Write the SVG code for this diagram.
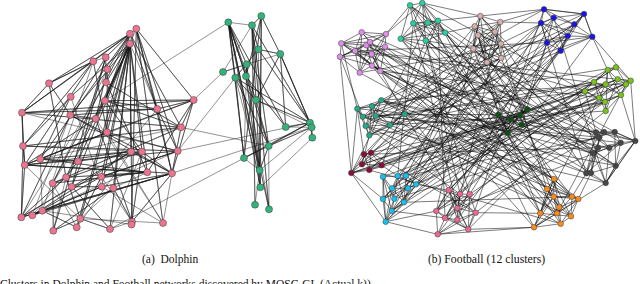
<svg xmlns="http://www.w3.org/2000/svg" width="640" height="284" viewBox="0 0 640 284">
<style>
.e{fill:none;stroke:#1a1a1a;stroke-width:.6;stroke-opacity:.8;stroke-linejoin:round}
#football-edges .e{stroke:#111;stroke-width:.6;stroke-opacity:.92}
circle{stroke:#3a3a3a;stroke-width:.5}
.pk{fill:#ea7590}.gr{fill:#34b27b}
.fv{fill:#dd8fe9}.ft{fill:#27d0a0}.fr{fill:#d6b1ab}.fb{fill:#1c14e6}.fy{fill:#78c41a}.fd{fill:#0d4f14}
.fs{fill:#22a986}.fk{fill:#454545}.fm{fill:#8a0d3b}.fc{fill:#17c0ef}.fn{fill:#ee6890}.fo{fill:#fb8c1c}
text{font-family:"Liberation Serif","Times New Roman",serif;fill:#111}
</style>
<rect width="640" height="284" fill="#fff"/>
<g id="connectors">
<g id="dolphin-edges">
<polyline class="e" points="130,43.7 106,82.3 130,43.7 105,100.7 130,43.7 95.7,118.7 130,43.7 107,132.3 130,43.7 131,151.7 130,43.7 142,151.7 130,43.7 78,161.3 130,43.7 101.3,176.7 130,43.7 101.7,186.7 130,43.7 113.3,188 130,43.7 132,221.7 130,43.7 110,229 130,43.7 70.3,115 130,43.7 71.7,186.7 130,43.7 80.3,218.7 130,43.7 70.7,96.7 130,43.7 147.3,172.3 130,43.7 66,177.3 130,43.7 157.3,109"/>
<polyline class="e" points="130,33.7 105.7,57.3 130,33.7 93.3,61.3 130,33.7 49,83.3 130,33.7 107.3,69.3 130,33.7 157.3,109 130,33.7 181,127.3 130,33.7 40.3,159 130,33.7 52.7,183.3 130,33.7 76.7,227.3 130,33.7 22,112.7 130,33.7 105,100.7 130,33.7 136.3,28.7 130,33.7 130,43.7"/>
<polyline class="e" points="136.3,28.7 193.7,100 136.3,28.7 157.3,109 136.3,28.7 131.5,224.5 136.3,28.7 177.7,151 136.3,28.7 172,173.3 136.3,28.7 163,223 136.3,28.7 130,43.7"/>
<polyline class="e" points="93.3,61.3 49,83.3 93.3,61.3 22,112.7 93.3,61.3 107,132.3 93.3,61.3 24.7,165 93.3,61.3 23,146 93.3,61.3 42.3,210.7"/>
<polyline class="e" points="105.7,57.3 106,82.3 105.7,57.3 71.7,186.7 105.7,57.3 53.3,230.7 105.7,57.3 70.3,115 105.7,57.3 93.3,61.3"/>
<polyline class="e" points="49,83.3 22,112.7 49,83.3 70.3,115 49,83.3 66,177.3 49,83.3 93.3,61.3"/>
<polyline class="e" points="22,112.7 193.7,100 22,112.7 157.3,109 22,112.7 181,127.3 22,112.7 23,146 22,112.7 24.7,165 22,112.7 177.7,151"/>
<polyline class="e" points="70.3,115 95.7,118.7 70.3,115 142,151.7 70.3,115 172,173.3 70.3,115 21.3,217.3 70.3,115 32.3,215.3"/>
<polyline class="e" points="70.7,96.7 23,146 70.7,96.7 40.3,159 70.7,96.7 101.7,186.7"/>
<polyline class="e" points="105,100.7 157.3,109 105,100.7 193.7,100 105,100.7 142,151.7 105,100.7 52.7,183.3"/>
<polyline class="e" points="106,82.3 181,127.3 106,82.3 147.3,172.3 106,82.3 21.3,217.3"/>
<polyline class="e" points="95.7,118.7 24.7,165 95.7,118.7 132,221.7 95.7,118.7 163,223"/>
<polyline class="e" points="181,127.3 193.7,100 181,127.3 105,100.7 181,127.3 66,177.3 181,127.3 23,146 181,127.3 172,173.3 181,127.3 40.3,159"/>
<polyline class="e" points="107,132.3 40.3,159 107,132.3 24.7,165 107,132.3 177.7,151 107,132.3 163,223"/>
<polyline class="e" points="23,146 24.7,165 23,146 21.3,217.3 23,146 177.7,151 23,146 142,151.7"/>
<polyline class="e" points="24.7,165 147.3,172.3 24.7,165 172,173.3 24.7,165 40.3,159 24.7,165 131,151.7 24.7,165 21.3,217.3 24.7,165 80.3,218.7"/>
<polyline class="e" points="40.3,159 78,161.3 40.3,159 147.3,172.3 40.3,159 131,151.7 40.3,159 42.3,210.7"/>
<polyline class="e" points="78,161.3 142,151.7 78,161.3 66,177.3 78,161.3 32.3,215.3"/>
<polyline class="e" points="193.7,100 147.3,172.3 193.7,100 172,173.3 193.7,100 157.3,109 193.7,100 107,132.3 193.7,100 40.3,159"/>
<polyline class="e" points="157.3,109 70.3,115 157.3,109 177.7,151 157.3,109 172,173.3 157.3,109 101.3,176.7"/>
<polyline class="e" points="131,151.7 172,173.3 131,151.7 21.3,217.3 131,151.7 32.3,215.3 131,151.7 76.7,227.3"/>
<polyline class="e" points="142,151.7 172,173.3 142,151.7 52.7,183.3 142,151.7 131.5,224.5 142,151.7 110,229"/>
<polyline class="e" points="177.7,151 24.7,165 177.7,151 101.3,176.7 177.7,151 71.7,186.7 177.7,151 32.3,215.3"/>
<polyline class="e" points="147.3,172.3 66,177.3 147.3,172.3 101.3,176.7 147.3,172.3 52.7,183.3 147.3,172.3 113.3,188"/>
<polyline class="e" points="172,173.3 42.3,210.7 172,173.3 32.3,215.3 172,173.3 21.3,217.3 172,173.3 101.7,186.7 172,173.3 132,221.7 172,173.3 163,223"/>
<polyline class="e" points="66,177.3 52.7,183.3 66,177.3 21.3,217.3 66,177.3 80.3,218.7 66,177.3 53.3,230.7"/>
<polyline class="e" points="101.3,176.7 32.3,215.3 101.3,176.7 80.3,218.7 101.3,176.7 132,221.7"/>
<polyline class="e" points="52.7,183.3 53.3,230.7 52.7,183.3 76.7,227.3"/>
<polyline class="e" points="71.7,186.7 101.7,186.7 71.7,186.7 110,229 71.7,186.7 21.3,217.3"/>
<polyline class="e" points="101.7,186.7 42.3,210.7 101.7,186.7 32.3,215.3 101.7,186.7 163,223"/>
<polyline class="e" points="113.3,188 132,221.7 113.3,188 53.3,230.7 113.3,188 80.3,218.7"/>
<polyline class="e" points="42.3,210.7 21.3,217.3 42.3,210.7 32.3,215.3 42.3,210.7 76.7,227.3 42.3,210.7 131.5,224.5"/>
<polyline class="e" points="80.3,218.7 53.3,230.7 80.3,218.7 76.7,227.3 80.3,218.7 110,229 80.3,218.7 163,223"/>
<polyline class="e" points="132,221.7 131.5,224.5 132,221.7 110,229"/>
<polyline class="e" points="107.3,69.3 95.7,118.7 107.3,69.3 107,132.3 107.3,69.3 52.7,183.3"/>
<polyline class="e" points="228.3,22.3 246.7,64.3 228.3,22.3 235.3,77.7 228.3,22.3 244,158 228.3,22.3 259.7,170.3 228.3,22.3 260.3,187.3 228.3,22.3 246,76.3 228.3,22.3 256,100 228.3,22.3 285.7,127 228.3,22.3 269,209.3 228.3,22.3 268.7,146 228.3,22.3 252,25.3"/>
<polyline class="e" points="261.3,16 252,25.3 261.3,16 280.3,54 261.3,16 246,76.3 261.3,16 244,158 261.3,16 259.7,170.3 261.3,16 260.3,187.3"/>
<polyline class="e" points="252,25.3 258.3,49.3 252,25.3 256,100 252,25.3 268.7,146 252,25.3 255,204.7 252,25.3 269,209.3 252,25.3 310,122.7 252,25.3 223,72"/>
<polyline class="e" points="258.3,49.3 280.3,54 258.3,49.3 235.3,77.7 258.3,49.3 310,122.7 258.3,49.3 260.3,187.3"/>
<polyline class="e" points="280.3,54 285.7,127 280.3,54 310,122.7 280.3,54 311.7,127.3 280.3,54 256,100 280.3,54 246.7,64.3"/>
<polyline class="e" points="246.7,64.3 223,72 246.7,64.3 246,76.3 246.7,64.3 259.7,170.3 246.7,64.3 244,158"/>
<polyline class="e" points="235.3,77.7 256,100 235.3,77.7 310,122.7 235.3,77.7 268.7,146 235.3,77.7 244,158 235.3,77.7 259.7,170.3"/>
<polyline class="e" points="246,76.3 285.7,127 246,76.3 260.3,187.3 246,76.3 269,209.3"/>
<polyline class="e" points="256,100 268.7,146 256,100 310,122.7 256,100 259.7,170.3 256,100 311.7,127.3"/>
<polyline class="e" points="285.7,127 310,122.7 285.7,127 311.7,127.3"/>
<polyline class="e" points="310,122.7 312.3,137.7 310,122.7 268.7,146 310,122.7 244,158 310,122.7 311.7,127.3"/>
<polyline class="e" points="311.7,127.3 268.7,146 311.7,127.3 312.3,137.7 311.7,127.3 259.7,170.3"/>
<polyline class="e" points="312.3,137.7 260.3,187.3"/>
<polyline class="e" points="268.7,146 244,158 268.7,146 259.7,170.3 268.7,146 269,209.3"/>
<polyline class="e" points="244,158 259.7,170.3 260.3,187.3 259.7,170.3 255,204.7"/>
<path class="e" d="M105 100.7L228.3 22.3M177.7 151L235.3 77.7M181 127.3L268.7 146M177.7 151L310 122.7M172 173.3L311.7 127.3M110 229L244 158M193.7 100L223 72"/>
</g>
<g id="football-edges">
<polyline class="e" points="361.7,32.3 386,34 385,46.7 380.3,71 372,65.7 359.7,72.7 340,56.7 341.3,43.3 361.7,32.3 370,42 371.7,54 359.7,72.7 355,51 341.3,43.3 366.3,45.3 385,46.7 371.7,54 380.3,71"/>
<polyline class="e" points="386,34 370,42 355,51 340,56.7 366.3,45.3 372,65.7 386,34 371.7,54 341.3,43.3 370,42 359.7,72.7 361.7,32.3 355,51 380.3,71 366.3,45.3 386,34"/>
<polyline class="e" points="385,46.7 372,65.7 355,51 371.7,54 340,56.7 370,42 380.3,71 341.3,43.3 372,65.7"/>
<polyline class="e" points="410,5.3 422.3,3 438,20.7 445.3,32.7 425.7,40.7 400.7,38.7 410,5.3 413.3,23.3 427.7,22.7 438,20.7 425.7,40.7 413.3,23.3 400.7,38.7 427.7,22.7 445.3,32.7 422.3,3 413.3,23.3 445.3,32.7"/>
<polyline class="e" points="410,5.3 427.7,22.7 422.3,3 425.7,40.7 410,5.3 445.3,32.7 400.7,38.7 438,20.7 413.3,23.3"/>
<polyline class="e" points="480.3,16 500.3,22 495,31.7 501,43.7 501.3,58 487,62.3 473.3,48.7 478,35.3 474.7,26.3 480.3,16 495,31.7 478,35.3 501,43.7 487,62.3 474.7,26.3 500.3,22 501,43.7 473.3,48.7 495,31.7 501.3,58 478,35.3 500.3,22"/>
<polyline class="e" points="480.3,16 473.3,48.7 501.3,58 474.7,26.3 495,31.7 487,62.3 480.3,16 501,43.7 474.7,26.3 473.3,48.7 500.3,22"/>
<polyline class="e" points="544,9.3 584,14 592.3,36.7 560.7,50.7 547,42.7 541,23 544,9.3 553.7,17.7 574.3,24.3 592.3,36.7 567.7,36 547,42.7 553.7,17.7 541,23 567.7,36 560.7,50.7 574.3,24.3 584,14 553.7,17.7"/>
<polyline class="e" points="544,9.3 574.3,24.3 547,42.7 592.3,36.7 541,23 560.7,50.7 584,14 567.7,36 544,9.3"/>
<polyline class="e" points="607.7,70 616,67.3 630.7,80.7 626,84.3 621,95 605.7,111 605,102 599,97.7 585,91.3 594,82 607.7,70 605.7,84.3 617.7,79.3 630.7,80.7 621,95 605,102 585,91.3 605.7,84.3 626,84.3 616,67.3 594,82 599,97.7 605.7,111"/>
<polyline class="e" points="607.7,70 617.7,79.3 626,84.3 605,102 594,82 621,95 605.7,84.3 599,97.7 630.7,80.7 585,91.3 617.7,79.3 605.7,111 607.7,70 621,95"/>
<polyline class="e" points="527.3,109.3 498.3,114.7 510.7,119.3 507.7,133 521.7,124.7 520,115.3 527.3,109.3 510.7,119.3 521.7,124.7 498.3,114.7 507.7,133 520,115.3 510.7,119.3"/>
<polyline class="e" points="381.3,100.3 357.3,108.7 362.7,116.7 365.7,126 369.3,135.3 390,125 404.7,114.3 381.3,100.3 372,106.3 375.7,116 390,125 362.7,116.7 357.3,108.7 372,106.3 365.7,126 375.7,116 404.7,114.3 369.3,135.3 357.3,108.7"/>
<polyline class="e" points="381.3,100.3 375.7,116 369.3,135.3 372,106.3 390,125 365.7,126 381.3,100.3 362.7,116.7 404.7,114.3"/>
<polyline class="e" points="596,132.3 604,132 614.7,132 635.3,141 620.7,142.7 615.7,165.7 605.7,183 591,173 586.3,173.3 593.3,153.3 598,147.7 599.3,137.3 596,132.3 614.7,132 620.7,142.7 609.3,147.7 598,147.7 586.3,173.3 605.7,183 615.7,165.7 635.3,141 609.3,147.7 593.3,153.3 591,173 599.3,137.3 604,132 620.7,142.7"/>
<polyline class="e" points="596,132.3 609.3,147.7 605.7,183 593.3,153.3 604,132 635.3,141 614.7,132 615.7,165.7 591,173 598,147.7 620.7,142.7 586.3,173.3 596,132.3 635.3,141 605.7,183"/>
<polyline class="e" points="364,154.3 371,152.7 381.7,165.3 369.3,170 351.3,173 362,164.3 364,154.3 369.3,170 371,152.7 362,164.3 381.7,165.3 351.3,173 364,154.3 381.7,165.3"/>
<polyline class="e" points="383,176.7 397.7,176 406,175.7 416,184.3 408,188.3 404,202.3 391.7,211 385.7,221.7 383,199 383,176.7 392,188.3 394.3,198.7 391.7,211 383,199 392,188.3 408,188.3 394.3,198.7 385.7,221.7 404,202.3 416,184.3 397.7,176 392,188.3 406,175.7 408,188.3"/>
<polyline class="e" points="383,176.7 394.3,198.7 397.7,176 404,202.3 406,175.7 383,199 416,184.3 391.7,211 383,176.7 385.7,221.7 392,188.3 404,202.3"/>
<polyline class="e" points="448.7,190.3 460,194 469.7,194.3 475.7,212.7 468.3,229.3 457.3,219.7 437.7,234.3 445,218 436.3,211 448.7,190.3 457.3,208 475.7,212.7 457.3,219.7 445,218 457.3,208 469.7,194.3 468.3,229.3 437.7,234.3 436.3,211 460,194 457.3,208 468.3,229.3 445,218"/>
<polyline class="e" points="448.7,190.3 475.7,212.7 437.7,234.3 457.3,208 457.3,219.7 460,194 445,218 469.7,194.3 436.3,211 468.3,229.3 448.7,190.3 457.3,219.7"/>
<polyline class="e" points="554,179 547,189 553.7,196.7 572,196.7 578.3,199 571,216.3 560.7,223.7 534,227.3 540.3,213.3 547,189 559.3,207.3 557,213.3 560.7,223.7 540.3,213.3 553.7,196.7 559.3,207.3 571,216.3 572,196.7 554,179 553.7,196.7 557,213.3 534,227.3 559.3,207.3 578.3,199 560.7,223.7"/>
<polyline class="e" points="554,179 540.3,213.3 571,216.3 547,189 572,196.7 557,213.3 578.3,199 553.7,196.7 534,227.3 554,179 559.3,207.3 560.7,223.7"/>
<polyline class="e" points="341.3,43.3 357.3,108.7 351.3,173 385.7,221.7 437.7,234.3 534,227.3 605.7,183 635.3,141 630.7,80.7 592.3,36.7 584,14 544,9.3 480.3,16 422.3,3 386,34 341.3,43.3"/>
<path class="e" d="M340 56.7L362.7 116.7M369.3 135.3L362 164.3M351.3 173L383 199M385.7 221.7L436.3 211M468.3 229.3L534 227.3M578.3 199L591 173M635.3 141L621 95M607.7 70L592.3 36.7M544 9.3L500.3 22M480.3 16L438 20.7M410 5.3L386 34M340 56.7L351.3 173M357.3 108.7L364 154.3M391.7 211L445 218M445.3 32.7L474.7 26.3M473.3 48.7L425.7 40.7M541 23L500.3 22M585 91.3L596 132.3M586.3 173.3L572 196.7M475.7 212.7L540.3 213.3M416 184.3L448.7 190.3M381.7 165.3L397.7 176"/>
<polyline class="e" points="340,56.7 527.3,109.3 383,199 541,23 436.3,211 585,91.3 362,164.3 473.3,48.7 540.3,213.3 400.7,38.7 593.3,153.3 381.3,100.3 578.3,199 385,46.7 599.3,137.3 406,175.7 560.7,50.7 369.3,135.3 605,102 469.7,194.3 425.7,40.7 560.7,223.7 369.3,170 507.7,133 372,65.7 586.3,173.3 495,31.7 391.7,211 594,82 404.7,114.3 554,179 359.7,72.7 567.7,36 445,218 604,132 438,20.7 381.7,165.3 621,95 408,188.3 501.3,58 553.7,196.7 362.7,116.7 592.3,36.7 457.3,219.7 498.3,114.7 366.3,45.3 615.7,165.7 413.3,23.3 397.7,176 607.7,70 460,194 365.7,126 571,216.3 478,35.3 364,154.3 598,147.7 355,51 547,42.7 416,184.3 510.7,119.3 445.3,32.7 572,196.7 390,125 605.7,111 475.7,212.7 371,152.7 487,62.3 614.7,132 394.3,198.7 553.7,17.7 372,106.3 557,213.3 626,84.3 351.3,173 427.7,22.7 559.3,207.3 371.7,54 605.7,84.3 392,188.3 500.3,22 457.3,208 620.7,142.7 375.7,116 574.3,24.3 362,164.3 520,115.3 448.7,190.3 380.3,71 599,97.7 383,176.7 501,43.7 547,189 410,5.3 609.3,147.7 381.3,100.3 544,9.3 468.3,229.3 617.7,79.3 351.3,173 474.7,26.3 404,202.3 572,196.7 370,42 591,173 445.3,32.7 521.7,124.7 357.3,108.7 616,67.3 385.7,221.7 560.7,50.7 436.3,211 480.3,16 596,132.3 361.7,32.3 534,227.3 422.3,3 585,91.3 381.7,165.3 527.3,109.3 391.7,211 584,14 362.7,116.7 615.7,165.7 425.7,40.7 460,194"/>
<polyline class="e" points="404.7,114.3 498.3,114.7 478,35.3 507.7,133 448.7,190.3 520,115.3 547,42.7 521.7,124.7 596,132.3 510.7,119.3 594,82 390,125 425.7,40.7 527.3,109.3 487,62.3 599.3,137.3 375.7,116 585,91.3 400.7,38.7 547,189 372,65.7 469.7,194.3 567.7,36 371,152.7 605,102 406,175.7 473.3,48.7 593.3,153.3 380.3,71 554,179 413.3,23.3 457.3,208 605.7,84.3 381.3,100.3 586.3,173.3 541,23 369.3,170 501,43.7 397.7,176 599,97.7 540.3,213.3 438,20.7 445,218 553.7,17.7 605.7,183 365.7,126 501.3,58 416,184.3 630.7,80.7 355,51 557,213.3 498.3,114.7 584,14"/>
</g>
</g>
<g id="dolphin-nodes">
<g id="dp0"><circle class="pk" cx="136.3" cy="28.7" r="3.5"/></g>
<g id="dp1"><circle class="pk" cx="130" cy="33.7" r="3.5"/></g>
<g id="dp2"><circle class="pk" cx="130" cy="43.7" r="3.5"/></g>
<g id="dp3"><circle class="pk" cx="105.7" cy="57.3" r="3.5"/></g>
<g id="dp4"><circle class="pk" cx="93.3" cy="61.3" r="3.5"/></g>
<g id="dp5"><circle class="pk" cx="107.3" cy="69.3" r="3.5"/></g>
<g id="dp6"><circle class="pk" cx="106" cy="82.3" r="3.5"/></g>
<g id="dp7"><circle class="pk" cx="49" cy="83.3" r="3.5"/></g>
<g id="dp8"><circle class="pk" cx="70.7" cy="96.7" r="3.5"/></g>
<g id="dp9"><circle class="pk" cx="105" cy="100.7" r="3.5"/></g>
<g id="dp10"><circle class="pk" cx="193.7" cy="100" r="3.5"/></g>
<g id="dp11"><circle class="pk" cx="157.3" cy="109" r="3.5"/></g>
<g id="dp12"><circle class="pk" cx="22" cy="112.7" r="3.5"/></g>
<g id="dp13"><circle class="pk" cx="70.3" cy="115" r="3.5"/></g>
<g id="dp14"><circle class="pk" cx="95.7" cy="118.7" r="3.5"/></g>
<g id="dp15"><circle class="pk" cx="181" cy="127.3" r="3.5"/></g>
<g id="dp16"><circle class="pk" cx="107" cy="132.3" r="3.5"/></g>
<g id="dp17"><circle class="pk" cx="23" cy="146" r="3.5"/></g>
<g id="dp18"><circle class="pk" cx="131" cy="151.7" r="3.5"/></g>
<g id="dp19"><circle class="pk" cx="142" cy="151.7" r="3.5"/></g>
<g id="dp20"><circle class="pk" cx="177.7" cy="151" r="3.5"/></g>
<g id="dp21"><circle class="pk" cx="40.3" cy="159" r="3.5"/></g>
<g id="dp22"><circle class="pk" cx="24.7" cy="165" r="3.5"/></g>
<g id="dp23"><circle class="pk" cx="78" cy="161.3" r="3.5"/></g>
<g id="dp24"><circle class="pk" cx="147.3" cy="172.3" r="3.5"/></g>
<g id="dp25"><circle class="pk" cx="172" cy="173.3" r="3.5"/></g>
<g id="dp26"><circle class="pk" cx="66" cy="177.3" r="3.5"/></g>
<g id="dp27"><circle class="pk" cx="101.3" cy="176.7" r="3.5"/></g>
<g id="dp28"><circle class="pk" cx="52.7" cy="183.3" r="3.5"/></g>
<g id="dp29"><circle class="pk" cx="71.7" cy="186.7" r="3.5"/></g>
<g id="dp30"><circle class="pk" cx="101.7" cy="186.7" r="3.5"/></g>
<g id="dp31"><circle class="pk" cx="113.3" cy="188" r="3.5"/></g>
<g id="dp32"><circle class="pk" cx="42.3" cy="210.7" r="3.5"/></g>
<g id="dp33"><circle class="pk" cx="32.3" cy="215.3" r="3.5"/></g>
<g id="dp34"><circle class="pk" cx="21.3" cy="217.3" r="3.5"/></g>
<g id="dp35"><circle class="pk" cx="80.3" cy="218.7" r="3.5"/></g>
<g id="dp36"><circle class="pk" cx="132" cy="221.7" r="3.5"/></g>
<g id="dp37"><circle class="pk" cx="131.5" cy="224.5" r="3.5"/></g>
<g id="dp38"><circle class="pk" cx="163" cy="223" r="3.5"/></g>
<g id="dp39"><circle class="pk" cx="53.3" cy="230.7" r="3.5"/></g>
<g id="dp40"><circle class="pk" cx="76.7" cy="227.3" r="3.5"/></g>
<g id="dp41"><circle class="pk" cx="110" cy="229" r="3.5"/></g>
<g id="dg0"><circle class="gr" cx="228.3" cy="22.3" r="3.5"/></g>
<g id="dg1"><circle class="gr" cx="261.3" cy="16" r="3.5"/></g>
<g id="dg2"><circle class="gr" cx="252" cy="25.3" r="3.5"/></g>
<g id="dg3"><circle class="gr" cx="258.3" cy="49.3" r="3.5"/></g>
<g id="dg4"><circle class="gr" cx="280.3" cy="54" r="3.5"/></g>
<g id="dg5"><circle class="gr" cx="246.7" cy="64.3" r="3.5"/></g>
<g id="dg6"><circle class="gr" cx="223" cy="72" r="3.5"/></g>
<g id="dg7"><circle class="gr" cx="235.3" cy="77.7" r="3.5"/></g>
<g id="dg8"><circle class="gr" cx="246" cy="76.3" r="3.5"/></g>
<g id="dg9"><circle class="gr" cx="256" cy="100" r="3.5"/></g>
<g id="dg10"><circle class="gr" cx="285.7" cy="127" r="3.5"/></g>
<g id="dg11"><circle class="gr" cx="310" cy="122.7" r="3.5"/></g>
<g id="dg12"><circle class="gr" cx="311.7" cy="127.3" r="3.5"/></g>
<g id="dg13"><circle class="gr" cx="312.3" cy="137.7" r="3.5"/></g>
<g id="dg14"><circle class="gr" cx="268.7" cy="146" r="3.5"/></g>
<g id="dg15"><circle class="gr" cx="244" cy="158" r="3.5"/></g>
<g id="dg16"><circle class="gr" cx="259.7" cy="170.3" r="3.5"/></g>
<g id="dg17"><circle class="gr" cx="260.3" cy="187.3" r="3.5"/></g>
<g id="dg18"><circle class="gr" cx="255" cy="204.7" r="3.5"/></g>
<g id="dg19"><circle class="gr" cx="269" cy="209.3" r="3.5"/></g>
</g>
<g id="football-nodes">
<g id="fv0"><circle class="fv" cx="361.7" cy="32.3" r="2.8"/></g>
<g id="fv1"><circle class="fv" cx="386" cy="34" r="2.8"/></g>
<g id="fv2"><circle class="fv" cx="341.3" cy="43.3" r="2.8"/></g>
<g id="fv3"><circle class="fv" cx="366.3" cy="45.3" r="2.8"/></g>
<g id="fv4"><circle class="fv" cx="370" cy="42" r="2.8"/></g>
<g id="fv5"><circle class="fv" cx="385" cy="46.7" r="2.8"/></g>
<g id="fv6"><circle class="fv" cx="355" cy="51" r="2.8"/></g>
<g id="fv7"><circle class="fv" cx="371.7" cy="54" r="2.8"/></g>
<g id="fv8"><circle class="fv" cx="340" cy="56.7" r="2.8"/></g>
<g id="fv9"><circle class="fv" cx="372" cy="65.7" r="2.8"/></g>
<g id="fv10"><circle class="fv" cx="380.3" cy="71" r="2.8"/></g>
<g id="fv11"><circle class="fv" cx="359.7" cy="72.7" r="2.8"/></g>
<g id="ft0"><circle class="ft" cx="410" cy="5.3" r="2.8"/></g>
<g id="ft1"><circle class="ft" cx="422.3" cy="3" r="2.8"/></g>
<g id="ft2"><circle class="ft" cx="413.3" cy="23.3" r="2.8"/></g>
<g id="ft3"><circle class="ft" cx="427.7" cy="22.7" r="2.8"/></g>
<g id="ft4"><circle class="ft" cx="438" cy="20.7" r="2.8"/></g>
<g id="ft5"><circle class="ft" cx="445.3" cy="32.7" r="2.8"/></g>
<g id="ft6"><circle class="ft" cx="400.7" cy="38.7" r="2.8"/></g>
<g id="ft7"><circle class="ft" cx="425.7" cy="40.7" r="2.8"/></g>
<g id="fr0"><circle class="fr" cx="480.3" cy="16" r="2.8"/></g>
<g id="fr1"><circle class="fr" cx="500.3" cy="22" r="2.8"/></g>
<g id="fr2"><circle class="fr" cx="474.7" cy="26.3" r="2.8"/></g>
<g id="fr3"><circle class="fr" cx="495" cy="31.7" r="2.8"/></g>
<g id="fr4"><circle class="fr" cx="478" cy="35.3" r="2.8"/></g>
<g id="fr5"><circle class="fr" cx="501" cy="43.7" r="2.8"/></g>
<g id="fr6"><circle class="fr" cx="473.3" cy="48.7" r="2.8"/></g>
<g id="fr7"><circle class="fr" cx="501.3" cy="58" r="2.8"/></g>
<g id="fr8"><circle class="fr" cx="487" cy="62.3" r="2.8"/></g>
<g id="fb0"><circle class="fb" cx="544" cy="9.3" r="2.8"/></g>
<g id="fb1"><circle class="fb" cx="584" cy="14" r="2.8"/></g>
<g id="fb2"><circle class="fb" cx="553.7" cy="17.7" r="2.8"/></g>
<g id="fb3"><circle class="fb" cx="541" cy="23" r="2.8"/></g>
<g id="fb4"><circle class="fb" cx="574.3" cy="24.3" r="2.8"/></g>
<g id="fb5"><circle class="fb" cx="567.7" cy="36" r="2.8"/></g>
<g id="fb6"><circle class="fb" cx="592.3" cy="36.7" r="2.8"/></g>
<g id="fb7"><circle class="fb" cx="547" cy="42.7" r="2.8"/></g>
<g id="fb8"><circle class="fb" cx="560.7" cy="50.7" r="2.8"/></g>
<g id="fy0"><circle class="fy" cx="607.7" cy="70" r="2.8"/></g>
<g id="fy1"><circle class="fy" cx="616" cy="67.3" r="2.8"/></g>
<g id="fy2"><circle class="fy" cx="594" cy="82" r="2.8"/></g>
<g id="fy3"><circle class="fy" cx="605.7" cy="84.3" r="2.8"/></g>
<g id="fy4"><circle class="fy" cx="617.7" cy="79.3" r="2.8"/></g>
<g id="fy5"><circle class="fy" cx="630.7" cy="80.7" r="2.8"/></g>
<g id="fy6"><circle class="fy" cx="626" cy="84.3" r="2.8"/></g>
<g id="fy7"><circle class="fy" cx="585" cy="91.3" r="2.8"/></g>
<g id="fy8"><circle class="fy" cx="599" cy="97.7" r="2.8"/></g>
<g id="fy9"><circle class="fy" cx="621" cy="95" r="2.8"/></g>
<g id="fy10"><circle class="fy" cx="605" cy="102" r="2.8"/></g>
<g id="fy11"><circle class="fy" cx="605.7" cy="111" r="2.8"/></g>
<g id="fd0"><circle class="fd" cx="527.3" cy="109.3" r="2.8"/></g>
<g id="fd1"><circle class="fd" cx="498.3" cy="114.7" r="2.8"/></g>
<g id="fd2"><circle class="fd" cx="520" cy="115.3" r="2.8"/></g>
<g id="fd3"><circle class="fd" cx="510.7" cy="119.3" r="2.8"/></g>
<g id="fd4"><circle class="fd" cx="521.7" cy="124.7" r="2.8"/></g>
<g id="fd5"><circle class="fd" cx="507.7" cy="133" r="2.8"/></g>
<g id="fs0"><circle class="fs" cx="381.3" cy="100.3" r="2.8"/></g>
<g id="fs1"><circle class="fs" cx="357.3" cy="108.7" r="2.8"/></g>
<g id="fs2"><circle class="fs" cx="372" cy="106.3" r="2.8"/></g>
<g id="fs3"><circle class="fs" cx="362.7" cy="116.7" r="2.8"/></g>
<g id="fs4"><circle class="fs" cx="375.7" cy="116" r="2.8"/></g>
<g id="fs5"><circle class="fs" cx="404.7" cy="114.3" r="2.8"/></g>
<g id="fs6"><circle class="fs" cx="365.7" cy="126" r="2.8"/></g>
<g id="fs7"><circle class="fs" cx="390" cy="125" r="2.8"/></g>
<g id="fs8"><circle class="fs" cx="369.3" cy="135.3" r="2.8"/></g>
<g id="fk0"><circle class="fk" cx="596" cy="132.3" r="2.8"/></g>
<g id="fk1"><circle class="fk" cx="604" cy="132" r="2.8"/></g>
<g id="fk2"><circle class="fk" cx="614.7" cy="132" r="2.8"/></g>
<g id="fk3"><circle class="fk" cx="599.3" cy="137.3" r="2.8"/></g>
<g id="fk4"><circle class="fk" cx="620.7" cy="142.7" r="2.8"/></g>
<g id="fk5"><circle class="fk" cx="635.3" cy="141" r="2.8"/></g>
<g id="fk6"><circle class="fk" cx="598" cy="147.7" r="2.8"/></g>
<g id="fk7"><circle class="fk" cx="609.3" cy="147.7" r="2.8"/></g>
<g id="fk8"><circle class="fk" cx="593.3" cy="153.3" r="2.8"/></g>
<g id="fk9"><circle class="fk" cx="615.7" cy="165.7" r="2.8"/></g>
<g id="fk10"><circle class="fk" cx="586.3" cy="173.3" r="2.8"/></g>
<g id="fk11"><circle class="fk" cx="591" cy="173" r="2.8"/></g>
<g id="fk12"><circle class="fk" cx="605.7" cy="183" r="2.8"/></g>
<g id="fm0"><circle class="fm" cx="364" cy="154.3" r="2.8"/></g>
<g id="fm1"><circle class="fm" cx="371" cy="152.7" r="2.8"/></g>
<g id="fm2"><circle class="fm" cx="362" cy="164.3" r="2.8"/></g>
<g id="fm3"><circle class="fm" cx="381.7" cy="165.3" r="2.8"/></g>
<g id="fm4"><circle class="fm" cx="369.3" cy="170" r="2.8"/></g>
<g id="fm5"><circle class="fm" cx="351.3" cy="173" r="2.8"/></g>
<g id="fc0"><circle class="fc" cx="383" cy="176.7" r="2.8"/></g>
<g id="fc1"><circle class="fc" cx="397.7" cy="176" r="2.8"/></g>
<g id="fc2"><circle class="fc" cx="406" cy="175.7" r="2.8"/></g>
<g id="fc3"><circle class="fc" cx="392" cy="188.3" r="2.8"/></g>
<g id="fc4"><circle class="fc" cx="408" cy="188.3" r="2.8"/></g>
<g id="fc5"><circle class="fc" cx="416" cy="184.3" r="2.8"/></g>
<g id="fc6"><circle class="fc" cx="383" cy="199" r="2.8"/></g>
<g id="fc7"><circle class="fc" cx="394.3" cy="198.7" r="2.8"/></g>
<g id="fc8"><circle class="fc" cx="404" cy="202.3" r="2.8"/></g>
<g id="fc9"><circle class="fc" cx="391.7" cy="211" r="2.8"/></g>
<g id="fc10"><circle class="fc" cx="385.7" cy="221.7" r="2.8"/></g>
<g id="fn0"><circle class="fn" cx="448.7" cy="190.3" r="2.8"/></g>
<g id="fn1"><circle class="fn" cx="460" cy="194" r="2.8"/></g>
<g id="fn2"><circle class="fn" cx="469.7" cy="194.3" r="2.8"/></g>
<g id="fn3"><circle class="fn" cx="457.3" cy="208" r="2.8"/></g>
<g id="fn4"><circle class="fn" cx="436.3" cy="211" r="2.8"/></g>
<g id="fn5"><circle class="fn" cx="475.7" cy="212.7" r="2.8"/></g>
<g id="fn6"><circle class="fn" cx="445" cy="218" r="2.8"/></g>
<g id="fn7"><circle class="fn" cx="457.3" cy="219.7" r="2.8"/></g>
<g id="fn8"><circle class="fn" cx="468.3" cy="229.3" r="2.8"/></g>
<g id="fn9"><circle class="fn" cx="437.7" cy="234.3" r="2.8"/></g>
<g id="fo0"><circle class="fo" cx="554" cy="179" r="2.8"/></g>
<g id="fo1"><circle class="fo" cx="547" cy="189" r="2.8"/></g>
<g id="fo2"><circle class="fo" cx="553.7" cy="196.7" r="2.8"/></g>
<g id="fo3"><circle class="fo" cx="572" cy="196.7" r="2.8"/></g>
<g id="fo4"><circle class="fo" cx="578.3" cy="199" r="2.8"/></g>
<g id="fo5"><circle class="fo" cx="559.3" cy="207.3" r="2.8"/></g>
<g id="fo6"><circle class="fo" cx="540.3" cy="213.3" r="2.8"/></g>
<g id="fo7"><circle class="fo" cx="557" cy="213.3" r="2.8"/></g>
<g id="fo8"><circle class="fo" cx="571" cy="216.3" r="2.8"/></g>
<g id="fo9"><circle class="fo" cx="560.7" cy="223.7" r="2.8"/></g>
<g id="fo10"><circle class="fo" cx="534" cy="227.3" r="2.8"/></g>
</g>
<g id="captions">
<text x="142" y="262.5" font-size="11.5">(a)</text>
<text x="160.5" y="262.5" font-size="11.5">Dolphin</text>
<text x="428" y="262.5" font-size="11.5">(b)</text>
<text x="444.3" y="262.5" font-size="11.8">Football (12 clusters)</text>
<text x="0" y="287.5" font-size="11.5">Clusters in Dolphin and Football networks discovered by MOSC-GL (Actual k)).</text>
</g>
</svg>
